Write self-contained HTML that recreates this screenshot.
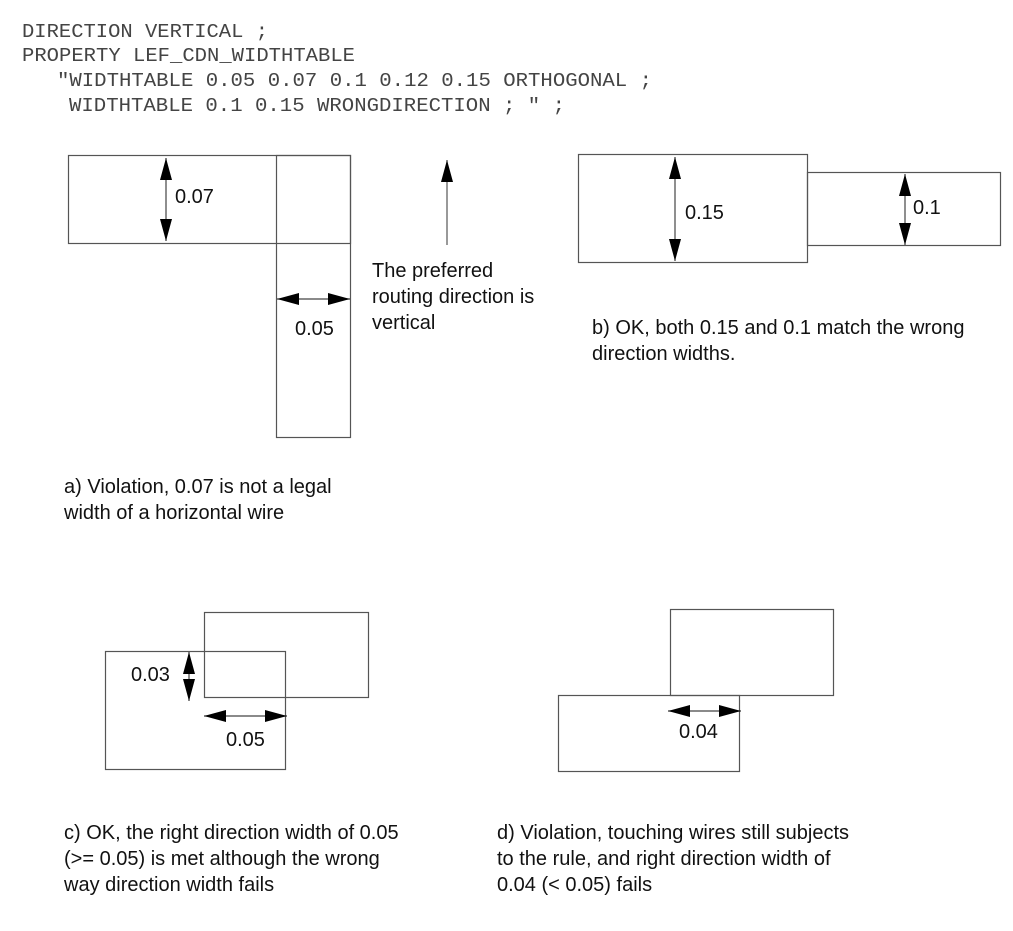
<!DOCTYPE html>
<html><head><meta charset="utf-8"><style>
html,body{margin:0;padding:0;background:#fff;}
svg{display:block;}
.m{font-family:"Liberation Mono",monospace;font-size:19px;fill:#444;}
.s{font-family:"Liberation Sans",sans-serif;font-size:20px;fill:#111;}
</style></head><body>
<svg width="1013" height="931" viewBox="0 0 1013 931" xmlns="http://www.w3.org/2000/svg">
<defs>
<marker id="b" viewBox="0 0 22 12" refX="22" refY="6" markerWidth="22" markerHeight="12" markerUnits="userSpaceOnUse" orient="auto-start-reverse"><path d="M0,0 L22,6 L0,12 z" fill="#000"/></marker>
</defs>
<text class="m" x="22" y="37" textLength="246" lengthAdjust="spacingAndGlyphs">DIRECTION VERTICAL ;</text>
<text class="m" x="22" y="61" textLength="333" lengthAdjust="spacingAndGlyphs">PROPERTY LEF_CDN_WIDTHTABLE</text>
<text class="m" x="57" y="86" textLength="595" lengthAdjust="spacingAndGlyphs">"WIDTHTABLE 0.05 0.07 0.1 0.12 0.15 ORTHOGONAL ;</text>
<text class="m" x="69" y="111" textLength="496" lengthAdjust="spacingAndGlyphs">WIDTHTABLE 0.1 0.15 WRONGDIRECTION ; " ;</text>

<g fill="none" stroke="#555" stroke-width="1.2">
<rect x="68.5" y="155.5" width="282" height="88"/>
<rect x="276.5" y="155.5" width="74" height="282"/>
<rect x="578.5" y="154.5" width="229" height="108"/>
<rect x="807.5" y="172.5" width="193" height="73"/>
<rect x="105.5" y="651.5" width="180" height="118"/>
<rect x="204.5" y="612.5" width="164" height="85"/>
<rect x="670.5" y="609.5" width="163" height="86"/>
<rect x="558.5" y="695.5" width="181" height="76"/>
</g>
<g stroke="#444" stroke-width="1.2" marker-start="url(#b)" marker-end="url(#b)">
<line x1="166" y1="158" x2="166" y2="241"/>
<line x1="277" y1="299" x2="350" y2="299"/>
<line x1="675" y1="157" x2="675" y2="261"/>
<line x1="905" y1="174" x2="905" y2="245"/>
<line x1="189" y1="652" x2="189" y2="701"/>
<line x1="204" y1="716" x2="287" y2="716"/>
<line x1="668" y1="711" x2="741" y2="711"/>
</g>
<line x1="447" y1="245" x2="447" y2="160" stroke="#555" stroke-width="1.2" marker-end="url(#b)"/>

<text class="s" x="175" y="203">0.07</text>
<text class="s" x="295" y="335">0.05</text>
<text class="s" x="372" y="277">The preferred</text>
<text class="s" x="372" y="303">routing direction is</text>
<text class="s" x="372" y="329">vertical</text>
<text class="s" x="685" y="219">0.15</text>
<text class="s" x="913" y="214">0.1</text>
<text class="s" x="592" y="334">b) OK, both 0.15 and 0.1 match the wrong</text>
<text class="s" x="592" y="360">direction widths.</text>
<text class="s" x="64" y="493">a) Violation, 0.07 is not a legal</text>
<text class="s" x="64" y="519">width of a horizontal wire</text>
<text class="s" x="131" y="681">0.03</text>
<text class="s" x="226" y="746">0.05</text>
<text class="s" x="679" y="738">0.04</text>
<text class="s" x="64" y="839">c) OK, the right direction width of 0.05</text>
<text class="s" x="64" y="865">(&gt;= 0.05) is met although the wrong</text>
<text class="s" x="64" y="891">way direction width fails</text>
<text class="s" x="497" y="839">d) Violation, touching wires still subjects</text>
<text class="s" x="497" y="865">to the rule, and right direction width of</text>
<text class="s" x="497" y="891">0.04 (&lt; 0.05) fails</text>
</svg>
</body></html>
